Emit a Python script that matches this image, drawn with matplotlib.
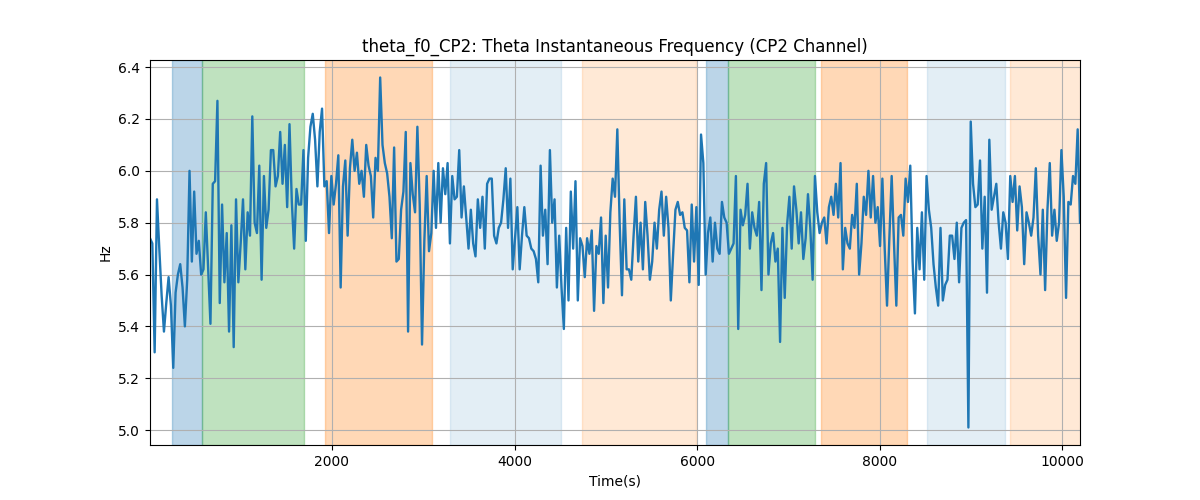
import numpy as np
import matplotlib
matplotlib.use("Agg")
import matplotlib.pyplot as plt

seg1 = [5.74, 5.72, 5.30, 5.89, 5.70, 5.52, 5.38, 5.49, 5.59, 5.48,
        5.24, 5.53, 5.60, 5.64, 5.55, 5.40, 5.58, 6.00, 5.65, 5.92,
        5.68, 5.73, 5.60, 5.62, 5.84, 5.63, 5.41, 5.95, 5.96, 6.27,
        5.49, 5.87, 5.57, 5.76, 5.38, 5.79, 5.32, 5.89, 5.57, 5.72,
        5.89, 5.62, 5.84, 5.75, 6.21, 5.80, 5.76, 6.02, 5.58, 5.98]
seg2 = [5.78, 5.85, 6.08, 6.08, 5.94, 5.98, 6.15, 5.95, 6.10, 5.86,
        6.18, 5.88, 5.70, 5.93, 5.87, 5.87, 6.08, 5.73, 6.05, 6.17,
        6.22, 6.12, 5.94, 6.15, 6.24, 5.94, 5.96, 5.76, 5.98, 5.87,
        5.95, 6.06, 5.55, 5.94, 6.04, 5.75, 6.01, 6.12, 6.00, 6.07,
        5.95, 6.00, 5.90, 6.10, 6.02, 5.98, 5.82, 6.05, 6.00, 6.36]
seg3 = [6.10, 6.03, 5.99, 5.90, 5.74, 6.09, 5.65, 5.66, 5.85, 5.92,
        6.15, 5.38, 6.03, 5.91, 5.84, 6.17, 5.87, 5.33, 5.73, 5.98,
        5.69, 5.76, 6.00, 5.78, 6.03, 5.80, 6.01, 5.91, 6.03, 5.72,
        5.98, 5.89, 5.90, 6.08, 5.82, 5.94, 5.82, 5.70, 5.85, 5.72,
        5.67, 5.89, 5.78, 5.90, 5.70, 5.95, 5.97, 5.97, 5.75, 5.72]
seg4 = [5.78, 5.80, 5.89, 6.01, 5.78, 5.97, 5.62, 5.74, 5.86, 5.62,
        5.75, 5.86, 5.75, 5.74, 5.70, 5.69, 5.66, 5.57, 6.02, 5.75,
        5.85, 5.64, 6.08, 5.80, 5.89, 5.55, 5.75, 5.55, 5.39, 5.78,
        5.50, 5.92, 5.70, 5.96, 5.50, 5.74, 5.71, 5.59, 5.74, 5.68,
        5.77, 5.46, 5.71, 5.68, 5.82, 5.49, 5.75, 5.55, 5.84, 5.97]
seg5 = [5.90, 6.16, 5.80, 5.52, 5.89, 5.62, 5.62, 5.58, 5.75, 5.90,
        5.65, 5.80, 5.62, 5.88, 5.75, 5.58, 5.65, 5.80, 5.70, 5.85,
        5.92, 5.75, 5.90, 5.78, 5.50, 5.68, 5.85, 5.88, 5.83, 5.84,
        5.78, 5.77, 5.57, 5.87, 5.65, 5.86, 5.56, 6.14, 6.03, 5.60,
        5.76, 5.82, 5.65, 5.80, 5.70, 5.68, 5.88, 5.82, 5.80, 5.68]
seg6 = [5.70, 5.72, 5.98, 5.39, 5.85, 5.79, 5.83, 5.95, 5.70, 5.84,
        5.78, 5.75, 5.88, 5.54, 5.95, 6.03, 5.60, 5.72, 5.76, 5.65,
        5.70, 5.34, 5.78, 5.51, 5.79, 5.90, 5.70, 5.94, 5.85, 5.72,
        5.84, 5.66, 5.74, 5.91, 5.78, 5.58, 5.98, 5.84, 5.76, 5.80,
        5.82, 5.72, 5.86, 5.90, 5.83, 5.95, 5.82, 6.03, 5.62, 5.78]
seg7 = [5.72, 5.70, 5.83, 5.78, 5.95, 5.60, 5.72, 5.90, 5.83, 6.00,
        5.82, 5.98, 5.80, 5.86, 5.71, 5.97, 5.70, 5.48, 5.74, 5.98,
        5.72, 5.48, 5.82, 5.83, 5.75, 5.97, 5.88, 6.02, 5.65, 5.45,
        5.78, 5.62, 5.84, 5.58, 5.98, 5.85, 5.78, 5.64, 5.55, 5.48,
        5.78, 5.50, 5.56, 5.58, 5.75, 5.75, 5.66, 5.80, 5.57, 5.78]
seg8 = [5.80, 5.81, 5.01, 6.19, 5.95, 5.86, 5.87, 6.04, 5.70, 5.90,
        5.53, 6.12, 5.85, 5.90, 5.95, 5.80, 5.70, 5.84, 5.80, 5.66,
        5.98, 5.88, 5.98, 5.77, 5.94, 5.86, 5.64, 5.84, 5.80, 5.75,
        5.82, 6.01, 5.75, 5.60, 5.85, 5.54, 5.85, 6.03, 5.75, 5.85,
        5.73, 5.80, 6.08, 5.90, 5.51, 5.88, 5.87, 5.98, 5.95, 6.16,
        5.80]

freq = np.array(seg1 + seg2 + seg3 + seg4 + seg5 + seg6 + seg7 + seg8)
t_start, t_end = 8, 10192
time = np.linspace(t_start, t_end, len(freq))

# labelled epochs (start, end, colour, alpha)
span_start = [250, 582, 1922, 3292, 4740, 6100, 6342, 7360, 8512, 9422]
span_end = [582, 1692, 3096, 4510, 5990, 6342, 7295, 8293, 9367, 10200]
span_color = ['tab:blue', 'tab:green', 'tab:orange', 'tab:blue', 'tab:orange',
              'tab:blue', 'tab:green', 'tab:orange', 'tab:blue', 'tab:orange']
span_alpha = [0.3, 0.3, 0.3, 0.12, 0.17, 0.3, 0.3, 0.3, 0.12, 0.17]

fig, ax = plt.subplots(figsize=(12, 5), dpi=100)
for s, e, c, a in zip(span_start, span_end, span_color, span_alpha):
    ax.axvspan(s, e, color=c, alpha=a)
ax.plot(time, freq, color='tab:blue', linewidth=1.7)
ax.set_xlim(t_start, t_end)
ax.grid(True)
ax.set_title("theta_f0_CP2: Theta Instantaneous Frequency (CP2 Channel)")
ax.set_xlabel("Time(s)")
ax.set_ylabel("Hz")
fig.savefig("out.png")
